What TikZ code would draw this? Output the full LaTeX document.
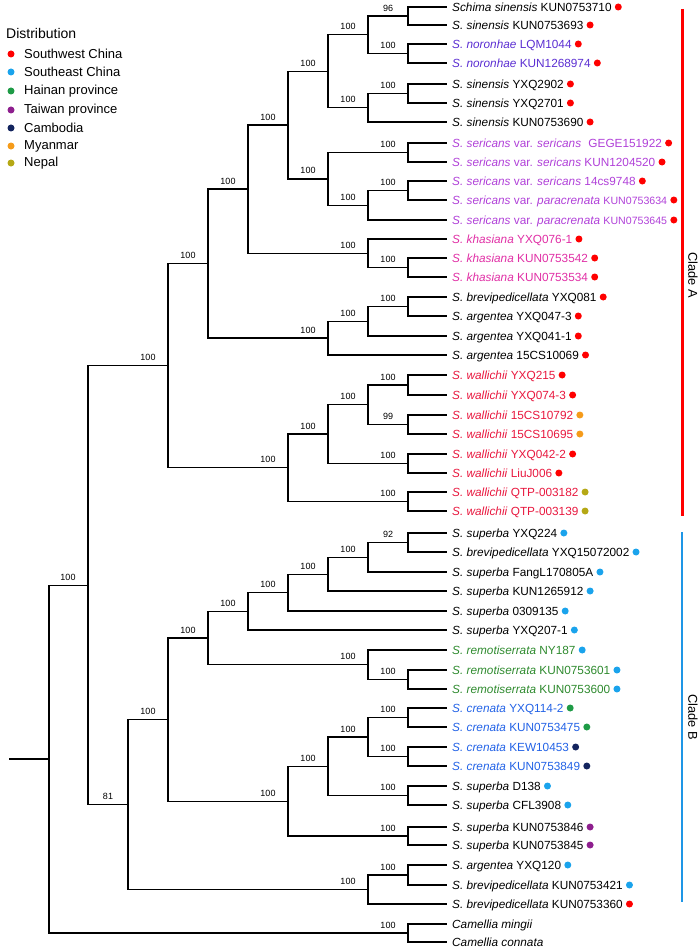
\documentclass[tikz,border=0pt]{standalone}
\usepackage{fontspec}
\setmainfont{Liberation Sans}
\definecolor{cR}{HTML}{FF0000}
\definecolor{cSE}{HTML}{1AA3EC}
\definecolor{cHN}{HTML}{1E9B46}
\definecolor{cTW}{HTML}{8E1F8E}
\definecolor{cKH}{HTML}{13245E}
\definecolor{cMM}{HTML}{F59B1A}
\definecolor{cNP}{HTML}{B5A815}
\definecolor{tNor}{HTML}{5B2ED2}
\definecolor{tSer}{HTML}{B040D8}
\definecolor{tKha}{HTML}{E02FA5}
\definecolor{tWal}{HTML}{E8173E}
\definecolor{tRem}{HTML}{2E8A2E}
\definecolor{tCre}{HTML}{2262E6}
\definecolor{cB}{HTML}{1E96E6}
\newcommand{\mkleaf}[5]{\node[leafnode,text=#3] (#1) at (447,#2) {#4};
  \node[dotnode,fill=#5] (d#1) at ([xshift=1.5pt]#1.east) {};}
\newcommand{\mkbs}[2]{\node[bsnode] (s#1) at ([shift={(-20pt,8pt)}]#1) {#2};}
\newcommand{\smallid}[1]{{\fontsize{10.6}{12}\selectfont #1}}
\begin{document}
\begin{tikzpicture}[x=1pt,y=-1pt,
  leafnode/.style={anchor=west,inner xsep=5pt,inner ysep=0pt,text height=8.6pt,text depth=0pt,font=\fontsize{11.8}{13}\selectfont},
  dotnode/.style={circle,inner sep=0pt,minimum size=7pt,draw=none},
  bsnode/.style={inner sep=0pt,font=\fontsize{9}{10}\selectfont},
  branch/.style={line width=1.2pt,black,line join=miter},
  legtext/.style={anchor=west,inner sep=0pt,font=\fontsize{13}{15}\selectfont},
  cladetext/.style={rotate=-90,inner sep=0pt,font=\fontsize{12.8}{14}\selectfont}]
\path[use as bounding box] (0,0) rectangle (700,947);

% legend
\node[anchor=west,inner sep=0pt,font=\fontsize{14}{16}\selectfont] (legtitle) at (6,33) {Distribution};
\node[dotnode,fill=cR] (g1) at (11,54) {}; \node[legtext] (t1) at (24,54) {Southwest China};
\node[dotnode,fill=cSE] (g2) at (11,72) {}; \node[legtext] (t2) at (24,72) {Southeast China};
\node[dotnode,fill=cHN] (g3) at (11,91) {}; \node[legtext] (t3) at (24,91) {Hainan province};
\node[dotnode,fill=cTW] (g4) at (11,110) {}; \node[legtext] (t4) at (24,110) {Taiwan province};
\node[dotnode,fill=cKH] (g5) at (11,128) {}; \node[legtext] (t5) at (24,128) {Cambodia};
\node[dotnode,fill=cMM] (g6) at (11,146) {}; \node[legtext] (t6) at (24,146) {Myanmar};
\node[dotnode,fill=cNP] (g7) at (11,163) {}; \node[legtext] (t7) at (24,163) {Nepal};

% leaves
\mkleaf{l1}{7}{black}{\textit{Schima sinensis} KUN0753710}{cR}
\mkleaf{l2}{25}{black}{\textit{S. sinensis} KUN0753693}{cR}
\mkleaf{l3}{44}{tNor}{\textit{S. noronhae} LQM1044}{cR}
\mkleaf{l4}{63}{tNor}{\textit{S. noronhae} KUN1268974}{cR}
\mkleaf{l5}{84}{black}{\textit{S. sinensis} YXQ2902}{cR}
\mkleaf{l6}{103}{black}{\textit{S. sinensis} YXQ2701}{cR}
\mkleaf{l7}{122}{black}{\textit{S. sinensis} KUN0753690}{cR}
\mkleaf{l8}{143}{tSer}{\textit{S. sericans} var. \textit{sericans}\hspace{4pt} GEGE151922}{cR}
\mkleaf{l9}{162}{tSer}{\textit{S. sericans} var. \textit{sericans} KUN1204520}{cR}
\mkleaf{l10}{181}{tSer}{\textit{S. sericans} var. \textit{sericans} 14cs9748}{cR}
\mkleaf{l11}{200}{tSer}{\textit{S. sericans} var. \textit{paracrenata} \smallid{KUN0753634}}{cR}
\mkleaf{l12}{220}{tSer}{\textit{S. sericans} var. \textit{paracrenata} \smallid{KUN0753645}}{cR}
\mkleaf{l13}{239}{tKha}{\textit{S. khasiana} YXQ076-1}{cR}
\mkleaf{l14}{258}{tKha}{\textit{S. khasiana} KUN0753542}{cR}
\mkleaf{l15}{277}{tKha}{\textit{S. khasiana} KUN0753534}{cR}
\mkleaf{l16}{297}{black}{\textit{S. brevipedicellata} YXQ081}{cR}
\mkleaf{l17}{316}{black}{\textit{S. argentea} YXQ047-3}{cR}
\mkleaf{l18}{336}{black}{\textit{S. argentea} YXQ041-1}{cR}
\mkleaf{l19}{355}{black}{\textit{S. argentea} 15CS10069}{cR}
\mkleaf{l20}{375}{tWal}{\textit{S. wallichii} YXQ215}{cR}
\mkleaf{l21}{395}{tWal}{\textit{S. wallichii} YXQ074-3}{cR}
\mkleaf{l22}{415}{tWal}{\textit{S. wallichii} 15CS10792}{cMM}
\mkleaf{l23}{434}{tWal}{\textit{S. wallichii} 15CS10695}{cMM}
\mkleaf{l24}{454}{tWal}{\textit{S. wallichii} YXQ042-2}{cR}
\mkleaf{l25}{473}{tWal}{\textit{S. wallichii} LiuJ006}{cR}
\mkleaf{l26}{492}{tWal}{\textit{S. wallichii} QTP-003182}{cNP}
\mkleaf{l27}{511}{tWal}{\textit{S. wallichii} QTP-003139}{cNP}
\mkleaf{l28}{533}{black}{\textit{S. superba} YXQ224}{cSE}
\mkleaf{l29}{552}{black}{\textit{S. brevipedicellata} YXQ15072002}{cSE}
\mkleaf{l30}{572}{black}{\textit{S. superba} FangL170805A}{cSE}
\mkleaf{l31}{591}{black}{\textit{S. superba} KUN1265912}{cSE}
\mkleaf{l32}{611}{black}{\textit{S. superba} 0309135}{cSE}
\mkleaf{l33}{630}{black}{\textit{S. superba} YXQ207-1}{cSE}
\mkleaf{l34}{650}{tRem}{\textit{S. remotiserrata} NY187}{cSE}
\mkleaf{l35}{670}{tRem}{\textit{S. remotiserrata} KUN0753601}{cSE}
\mkleaf{l36}{689}{tRem}{\textit{S. remotiserrata} KUN0753600}{cSE}
\mkleaf{l37}{708}{tCre}{\textit{S. crenata} YXQ114-2}{cHN}
\mkleaf{l38}{727}{tCre}{\textit{S. crenata} KUN0753475}{cHN}
\mkleaf{l39}{747}{tCre}{\textit{S. crenata} KEW10453}{cKH}
\mkleaf{l40}{766}{tCre}{\textit{S. crenata} KUN0753849}{cKH}
\mkleaf{l41}{786}{black}{\textit{S. superba} D138}{cSE}
\mkleaf{l42}{805}{black}{\textit{S. superba} CFL3908}{cSE}
\mkleaf{l43}{827}{black}{\textit{S. superba} KUN0753846}{cTW}
\mkleaf{l44}{845}{black}{\textit{S. superba} KUN0753845}{cTW}
\mkleaf{l45}{865}{black}{\textit{S. argentea} YXQ120}{cSE}
\mkleaf{l46}{885}{black}{\textit{S. brevipedicellata} KUN0753421}{cSE}
\mkleaf{l47}{904}{black}{\textit{S. brevipedicellata} KUN0753360}{cR}
\node[leafnode] (l48) at (447,924) {\textit{Camellia mingii}};
\node[leafnode] (l49) at (447,942) {\textit{Camellia connata}};

% internal nodes
\coordinate (a1) at (408,16);
\coordinate (a2) at (408,53.5);
\coordinate (a3) at (368,34.75);
\coordinate (a4) at (408,93.5);
\coordinate (a5) at (368,107.75);
\coordinate (a6) at (328,71.25);
\coordinate (a7) at (408,152.5);
\coordinate (a8) at (408,190.5);
\coordinate (a9) at (368,205.25);
\coordinate (a10) at (328,178.9);
\coordinate (a11) at (288,125);
\coordinate (a12) at (408,267.5);
\coordinate (a13) at (368,253.25);
\coordinate (a14) at (248,189);
\coordinate (a15) at (408,306.5);
\coordinate (a16) at (368,321.25);
\coordinate (a17) at (328,338);
\coordinate (a18) at (208,263.6);
\coordinate (a19) at (408,385);
\coordinate (a20) at (408,424.5);
\coordinate (a21) at (368,404.75);
\coordinate (a22) at (408,463.5);
\coordinate (a23) at (328,434);
\coordinate (a24) at (408,501.5);
\coordinate (a25) at (288,467.75);
\coordinate (A) at (168,365.7);
\coordinate (b1) at (408,542.5);
\coordinate (b2) at (368,557.25);
\coordinate (b3) at (328,574.1);
\coordinate (b4) at (288,592.6);
\coordinate (b5) at (248,611.3);
\coordinate (b6) at (408,679.5);
\coordinate (b7) at (368,664.75);
\coordinate (b8) at (208,638);
\coordinate (b9) at (408,717.5);
\coordinate (b10) at (408,756.5);
\coordinate (b11) at (368,737);
\coordinate (b12) at (408,795.5);
\coordinate (b13) at (328,766.25);
\coordinate (b14) at (408,836);
\coordinate (b15) at (288,801.1);
\coordinate (b16) at (168,719.6);
\coordinate (b17) at (408,875);
\coordinate (b18) at (368,889.5);
\coordinate (B) at (128,804.5);
\coordinate (ING) at (88,585.1);
\coordinate (c1) at (408,933);
\coordinate (root) at (49,759);
\coordinate (r0) at (9,759);

% branches
\draw[branch] (r0) -- (root);
\draw[branch] (root) |- (ING); \draw[branch] (root) |- (c1);
\draw[branch] (c1) |- (l48.west); \draw[branch] (c1) |- (l49.west);
\draw[branch] (ING) |- (A); \draw[branch] (ING) |- (B);
\draw[branch] (A) |- (a18); \draw[branch] (A) |- (a25);
\draw[branch] (a18) |- (a14); \draw[branch] (a18) |- (a17);
\draw[branch] (a14) |- (a11); \draw[branch] (a14) |- (a13);
\draw[branch] (a11) |- (a6); \draw[branch] (a11) |- (a10);
\draw[branch] (a6) |- (a3); \draw[branch] (a6) |- (a5);
\draw[branch] (a3) |- (a1); \draw[branch] (a3) |- (a2);
\draw[branch] (a1) |- (l1.west); \draw[branch] (a1) |- (l2.west);
\draw[branch] (a2) |- (l3.west); \draw[branch] (a2) |- (l4.west);
\draw[branch] (a5) |- (a4); \draw[branch] (a5) |- (l7.west);
\draw[branch] (a4) |- (l5.west); \draw[branch] (a4) |- (l6.west);
\draw[branch] (a10) |- (a7); \draw[branch] (a10) |- (a9);
\draw[branch] (a7) |- (l8.west); \draw[branch] (a7) |- (l9.west);
\draw[branch] (a9) |- (a8); \draw[branch] (a9) |- (l12.west);
\draw[branch] (a8) |- (l10.west); \draw[branch] (a8) |- (l11.west);
\draw[branch] (a13) |- (l13.west); \draw[branch] (a13) |- (a12);
\draw[branch] (a12) |- (l14.west); \draw[branch] (a12) |- (l15.west);
\draw[branch] (a17) |- (a16); \draw[branch] (a17) |- (l19.west);
\draw[branch] (a16) |- (a15); \draw[branch] (a16) |- (l18.west);
\draw[branch] (a15) |- (l16.west); \draw[branch] (a15) |- (l17.west);
\draw[branch] (a25) |- (a23); \draw[branch] (a25) |- (a24);
\draw[branch] (a23) |- (a21); \draw[branch] (a23) |- (a22);
\draw[branch] (a21) |- (a19); \draw[branch] (a21) |- (a20);
\draw[branch] (a19) |- (l20.west); \draw[branch] (a19) |- (l21.west);
\draw[branch] (a20) |- (l22.west); \draw[branch] (a20) |- (l23.west);
\draw[branch] (a22) |- (l24.west); \draw[branch] (a22) |- (l25.west);
\draw[branch] (a24) |- (l26.west); \draw[branch] (a24) |- (l27.west);
\draw[branch] (B) |- (b16); \draw[branch] (B) |- (b18);
\draw[branch] (b16) |- (b8); \draw[branch] (b16) |- (b15);
\draw[branch] (b8) |- (b5); \draw[branch] (b8) |- (b7);
\draw[branch] (b5) |- (b4); \draw[branch] (b5) |- (l33.west);
\draw[branch] (b4) |- (b3); \draw[branch] (b4) |- (l32.west);
\draw[branch] (b3) |- (b2); \draw[branch] (b3) |- (l31.west);
\draw[branch] (b2) |- (b1); \draw[branch] (b2) |- (l30.west);
\draw[branch] (b1) |- (l28.west); \draw[branch] (b1) |- (l29.west);
\draw[branch] (b7) |- (l34.west); \draw[branch] (b7) |- (b6);
\draw[branch] (b6) |- (l35.west); \draw[branch] (b6) |- (l36.west);
\draw[branch] (b15) |- (b13); \draw[branch] (b15) |- (b14);
\draw[branch] (b13) |- (b11); \draw[branch] (b13) |- (b12);
\draw[branch] (b11) |- (b9); \draw[branch] (b11) |- (b10);
\draw[branch] (b9) |- (l37.west); \draw[branch] (b9) |- (l38.west);
\draw[branch] (b10) |- (l39.west); \draw[branch] (b10) |- (l40.west);
\draw[branch] (b12) |- (l41.west); \draw[branch] (b12) |- (l42.west);
\draw[branch] (b14) |- (l43.west); \draw[branch] (b14) |- (l44.west);
\draw[branch] (b18) |- (b17); \draw[branch] (b18) |- (l47.west);
\draw[branch] (b17) |- (l45.west); \draw[branch] (b17) |- (l46.west);

% bootstrap values
\mkbs{a1}{96} \mkbs{a2}{100} \mkbs{a3}{100} \mkbs{a4}{100} \mkbs{a5}{100}
\mkbs{a6}{100} \mkbs{a7}{100} \mkbs{a8}{100} \mkbs{a9}{100} \mkbs{a10}{100}
\mkbs{a11}{100} \mkbs{a12}{100} \mkbs{a13}{100} \mkbs{a14}{100} \mkbs{a15}{100}
\mkbs{a16}{100} \mkbs{a17}{100} \mkbs{a18}{100} \mkbs{a19}{100} \mkbs{a20}{99}
\mkbs{a21}{100} \mkbs{a22}{100} \mkbs{a23}{100} \mkbs{a24}{100} \mkbs{a25}{100}
\mkbs{A}{100}
\mkbs{b1}{92} \mkbs{b2}{100} \mkbs{b3}{100} \mkbs{b4}{100} \mkbs{b5}{100}
\mkbs{b6}{100} \mkbs{b7}{100} \mkbs{b8}{100} \mkbs{b9}{100} \mkbs{b10}{100}
\mkbs{b11}{100} \mkbs{b12}{100} \mkbs{b13}{100} \mkbs{b14}{100} \mkbs{b15}{100}
\mkbs{b16}{100} \mkbs{b17}{100} \mkbs{b18}{100}
\mkbs{B}{81} \mkbs{ING}{100} \mkbs{c1}{100}

% clade bars
\coordinate (ca1) at (682,9); \coordinate (ca2) at (682,516);
\coordinate (cb1) at (682,532); \coordinate (cb2) at (682,902);
\draw[cR,line width=3pt] (ca1) -- (ca2);
\draw[cB,line width=2.6pt] (cb1) -- (cb2);
\node[cladetext] (cladeA) at (693,275) {Clade A};
\node[cladetext] (cladeB) at (693,717) {Clade B};
\end{tikzpicture}
\end{document}
